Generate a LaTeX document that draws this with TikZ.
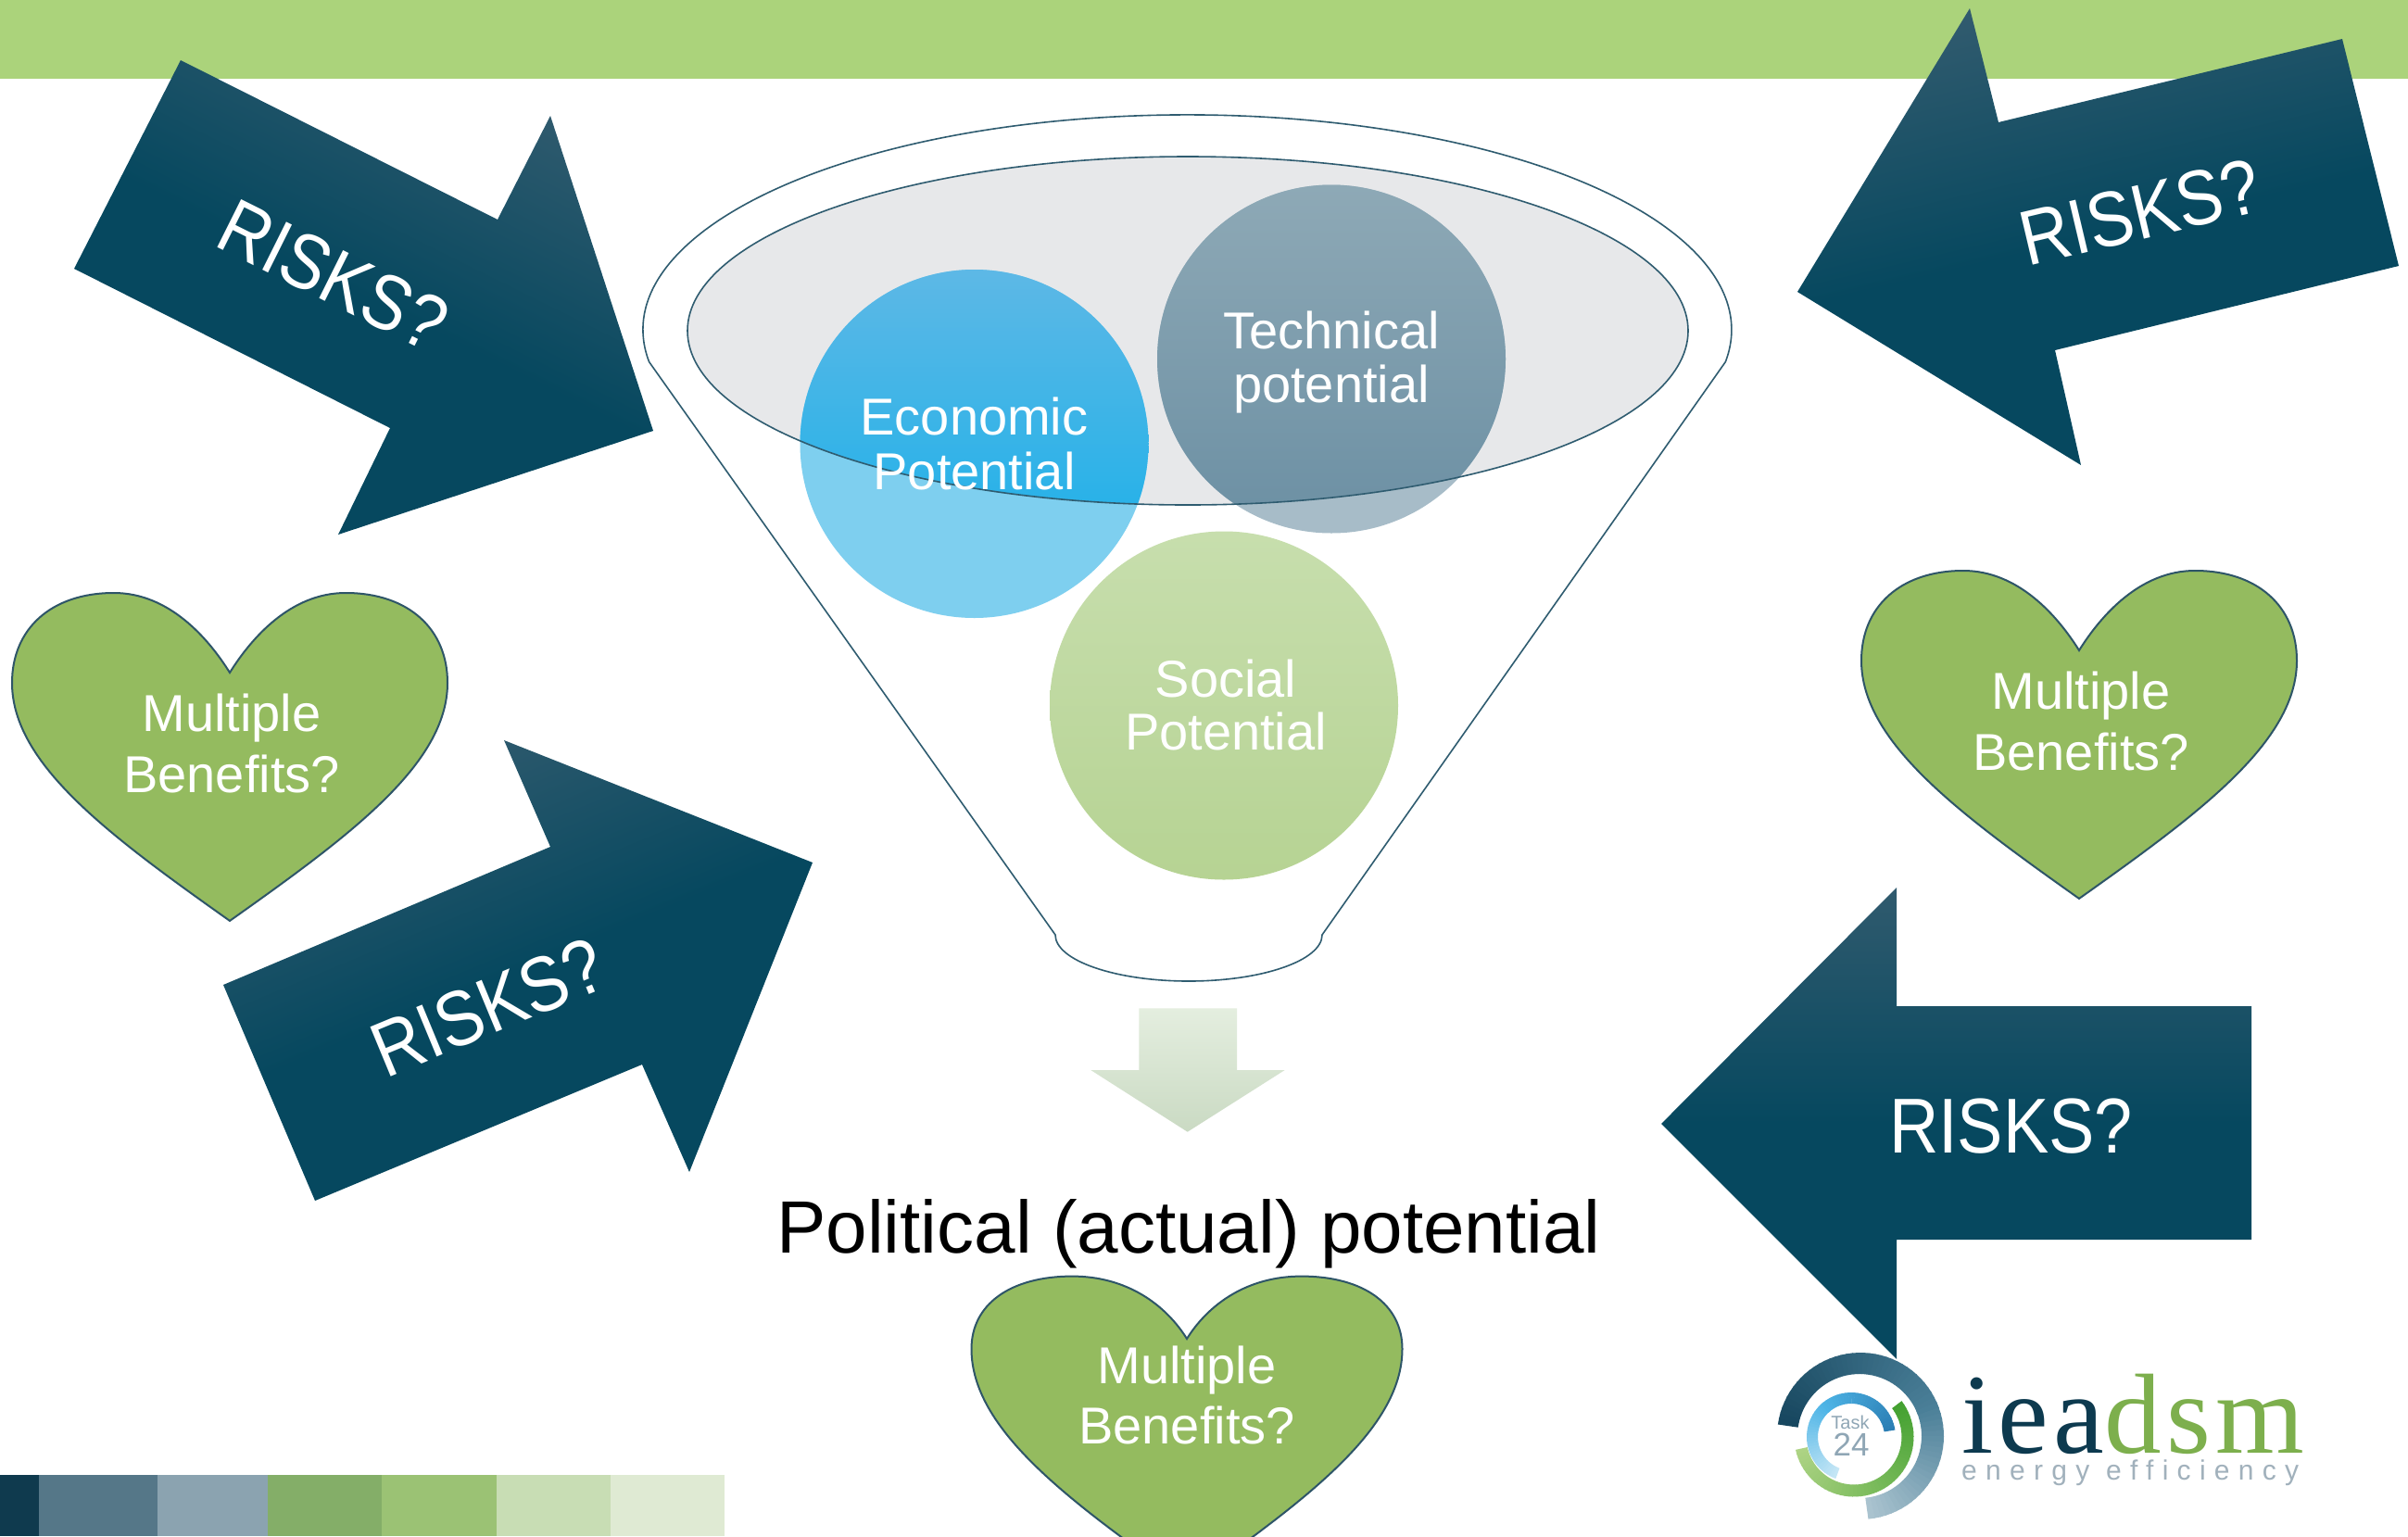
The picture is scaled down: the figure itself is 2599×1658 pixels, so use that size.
\documentclass[tikz,border=0pt]{standalone}
\usepackage{fontspec}
\usepackage{graphicx}
\setmainfont{Liberation Sans}
\newfontfamily\seriflogo{Liberation Serif}

\definecolor{band}{HTML}{ABD37B}
\definecolor{adark}{HTML}{06485F}
\definecolor{alight}{HTML}{5A6D7D}
\definecolor{funline}{HTML}{2F5C70}
\definecolor{ellfill}{HTML}{E7E8EA}
\definecolor{ecotop}{HTML}{5DB8E6}
\definecolor{ecobot}{HTML}{10AFE9}
\definecolor{ecoout}{HTML}{7ECFEF}
\definecolor{tectop}{HTML}{8EA9B6}
\definecolor{tecbot}{HTML}{6B8FA3}
\definecolor{tecout}{HTML}{A7BCC8}
\definecolor{soctop}{HTML}{C7DEAD}
\definecolor{socbot}{HTML}{B6D393}
\definecolor{heartfill}{HTML}{94BB5F}
\definecolor{heartline}{HTML}{2E5568}
\definecolor{dnarrtop}{HTML}{E4EEDF}
\definecolor{dnarrbot}{HTML}{CADAC3}
\definecolor{sA}{HTML}{0F3A4E}
\definecolor{sB}{HTML}{557788}
\definecolor{sC}{HTML}{8BA3B0}
\definecolor{sD}{HTML}{84AE68}
\definecolor{sE}{HTML}{9BC274}
\definecolor{sF}{HTML}{C8DDB4}
\definecolor{sG}{HTML}{DFEAD3}
\definecolor{logodark}{HTML}{17475F}
\definecolor{logomid}{HTML}{4A7F98}
\definecolor{logolight}{HTML}{AAC3CF}
\definecolor{greenA}{HTML}{44A131}
\definecolor{greenB}{HTML}{ADD384}
\definecolor{blueA}{HTML}{2B7EB4}
\definecolor{blueB}{HTML}{4DB4E6}
\definecolor{blueC}{HTML}{C4E6F5}
\definecolor{logogray}{HTML}{8FA6B5}
\definecolor{logogray2}{HTML}{A1B1BC}
\definecolor{logonavy}{HTML}{0D3A4F}
\definecolor{logogreen}{HTML}{7DAF4D}

\pgfdeclareverticalshading{riskshade}{100bp}{color(0bp)=(adark); color(50bp)=(adark); color(100bp)=(alight)}

\newcommand\drawheart[5]{%
  \begin{scope}[shift={(#1,#2)}, x=#3pt, y=#3pt]
    \path[heartstyle] (0,0) .. controls (-0.1,0.16) and (-0.28,#4) .. (-0.532,#4)
      .. controls (-0.82,#4) and (-1,{0.55*#4}) .. (-1,-0.047)
      .. controls (-1,-0.42) and (-0.55,-0.75) .. (0,-1.14)
      .. controls (0.55,-0.75) and (1,-0.42) .. (1,-0.047)
      .. controls (1,{0.55*#4}) and (0.82,#4) .. (0.532,#4)
      .. controls (0.28,#4) and (0.1,0.16) .. (0,0) -- cycle;
    \coordinate (#5) at (0,0);
  \end{scope}}

\begin{document}
\begin{tikzpicture}[x=1pt,y=-1pt,
  riskarrow/.style={shading=riskshade},
  risktext/.style={text=white, inner sep=0pt, font=\fontsize{84}{100}\selectfont},
  circtext/.style={text=white, inner sep=0pt, anchor=base, font=\fontsize{56}{60}\selectfont},
  hearttext/.style={text=white, inner sep=0pt, anchor=base, font=\fontsize{56}{60}\selectfont},
  heartstyle/.style={fill=heartfill, draw=heartline, line width=2pt},
  funnel/.style={draw=funline, line width=1.6pt}]
\useasboundingbox (0,0) rectangle (2599,1658);
\clip (0,0) rectangle (2599,1658);
\fill[white] (0,0) rectangle (2599,1658);
\fill[band] (0,0) rectangle (2599,85);

% ---- risk arrows
\shade[riskarrow, shading angle=-26.5] (195,65) -- (537,237) -- (594,125) -- (705,465) -- (365,577) -- (421,462) -- (80,290) -- cycle;
\node[risktext, rotate=-26.5] (r1) at (360,297) {\scalebox{0.88}[1]{RISKS?}};

\shade[riskarrow, shading angle=22.5] (241,1063) -- (594,914) -- (544,799) -- (877,931) -- (744,1265) -- (693,1149) -- (340,1296) -- cycle;
\node[risktext, rotate=22.5] (r2) at (527,1087) {\scalebox{0.88}[1]{RISKS?}};

\shade[riskarrow, shading angle=13.3] (1940,315) -- (2126,9) -- (2157,132) -- (2528,42) -- (2589,287) -- (2218,378) -- (2246,502) -- cycle;
\node[risktext, rotate=13.3] (r3) at (2310,229) {\scalebox{0.88}[1]{RISKS?}};

\shade[riskarrow] (1793,1213) -- (2047,958) -- (2047,1086) -- (2430,1086) -- (2430,1338) -- (2047,1338) -- (2047,1467) -- cycle;
\node[risktext] (r4) at (2170.5,1216) {\scalebox{0.88}[1]{RISKS?}};

% ---- funnel
\draw[funnel] (1139,1009) -- (700.6,390.6)
  arc[start angle=171.4, end angle=368.6, x radius=587.5, y radius=232]
  -- (1427,1009) arc[start angle=0, end angle=180, x radius=144, y radius=50] -- cycle;
\fill[ellfill] (1282,357) ellipse (540 and 188);

\fill[ecoout] (1051.5,479) circle (188);
\fill[tecout] (1437,387.5) circle (188);
\begin{scope}
  \clip (1282,357) ellipse (540 and 188);
  \shade[top color=ecotop, bottom color=ecobot] (1051.5,479) circle (188);
  \shade[top color=tectop, bottom color=tecbot] (1437,387.5) circle (188);
\end{scope}
\draw[funnel] (1282,357) ellipse (540 and 188);
\shade[top color=soctop, bottom color=socbot] (1321,761.5) circle (188);

\node[circtext] (eco1) at (1051.5,469) {Economic};
\node[circtext] (eco2) at (1051.5,528) {Potential};
\node[circtext] (tec1) at (1437,376) {Technical};
\node[circtext] (tec2) at (1437,434) {potential};
\node[circtext] (soc1) at (1323,752) {Social};
\node[circtext] (soc2) at (1323,809) {Potential};

% ---- down arrow
\shade[top color=dnarrtop, bottom color=dnarrbot] (1229.3,1088.3) -- (1335,1088.3) -- (1335,1155) -- (1386.7,1155) -- (1281.7,1221.7) -- (1177.3,1155) -- (1229.3,1155) -- cycle;

\node[anchor=base, inner sep=0pt, font=\fontsize{80}{96}\selectfont] (pol) at (1283,1352) {Political (actual) potential};

% ---- hearts
\drawheart{248}{726}{235}{0.366}{hL}
\node[hearttext] (hL1) at (250,789) {Multiple};
\node[hearttext] (hL2) at (250,855) {Benefits?};
\drawheart{2244}{702}{235}{0.366}{hR}
\node[hearttext] (hR1) at (2246,765) {Multiple};
\node[hearttext] (hR2) at (2246,831) {Benefits?};
\drawheart{1281}{1445}{232.5}{0.29}{hB}
\node[hearttext] (hB1) at (1281,1493) {Multiple};
\node[hearttext] (hB2) at (1281,1558) {Benefits?};

% ---- colour strip
\fill[sA] (0,1592) rectangle (42,1658);
\fill[sB] (42,1592) rectangle (170,1658);
\fill[sC] (170,1592) rectangle (289,1658);
\fill[sD] (289,1592) rectangle (412,1658);
\fill[sE] (412,1592) rectangle (536,1658);
\fill[sF] (536,1592) rectangle (659,1658);
\fill[sG] (659,1592) rectangle (782,1658);

% ---- logo
\begin{scope}[shift={(2008,1550)}, x=1pt, y=1pt]
  \foreach \i in {0,...,37} {
    \pgfmathsetmacro\aa{172-4*\i}
    \pgfmathsetmacro\ab{\aa-4.6}
    \pgfmathsetmacro\pp{100*\i/37}
    \fill[logomid!\pp!logodark] (\aa:90) -- (\ab:90) -- ([shift={(-1,0)}]\ab:67) -- ([shift={(-1,0)}]\aa:67) -- cycle;
  }
  \foreach \i in {0,...,26} {
    \pgfmathsetmacro\aa{24-4*\i}
    \pgfmathsetmacro\ab{\aa-4.6}
    \pgfmathsetmacro\pp{100*\i/26}
    \fill[logolight!\pp!logomid] (\aa:90) -- (\ab:90) -- ([shift={(-1,0)}]\ab:67) -- ([shift={(-1,0)}]\aa:67) -- cycle;
  }
  \foreach \i in {0,...,50} {
    \pgfmathsetmacro\aa{37-4*\i}
    \pgfmathsetmacro\ab{\aa-4.6}
    \pgfmathsetmacro\pp{100*\i/50}
    \fill[greenB!\pp!greenA] ([shift={(-7,-1)}]\aa:64.5) -- ([shift={(-7,-1)}]\ab:64.5) -- ([shift={(-7,-1)}]\ab:51.5) -- ([shift={(-7,-1)}]\aa:51.5) -- cycle;
  }
  \foreach \i in {0,...,30} {
    \pgfmathsetmacro\aa{9+4*\i}
    \pgfmathsetmacro\ab{\aa+4.6}
    \pgfmathsetmacro\pp{100*\i/30}
    \fill[blueB!\pp!blueA] ([shift={(-10,-1)}]\aa:48) -- ([shift={(-10,-1)}]\ab:48) -- ([shift={(-10,-1)}]\ab:36) -- ([shift={(-10,-1)}]\aa:36) -- cycle;
  }
  \foreach \i in {0,...,29} {
    \pgfmathsetmacro\aa{129+4*\i}
    \pgfmathsetmacro\ab{\aa+4.6}
    \pgfmathsetmacro\pp{100*\i/29}
    \fill[blueC!\pp!blueB] ([shift={(-10,-1)}]\aa:48) -- ([shift={(-10,-1)}]\ab:48) -- ([shift={(-10,-1)}]\ab:36) -- ([shift={(-10,-1)}]\aa:36) -- cycle;
  }
  \node[anchor=base, inner sep=0pt, text=logogray, font=\fontsize{20}{24}\selectfont] (task) at (-11,8) {Task};
  \node[anchor=base, inner sep=0pt, text=logogray, font=\fontsize{35}{40}\selectfont] (tasknum) at (-10,-21) {24};
\end{scope}
\node[anchor=base west, inner sep=0pt, font=\seriflogo\fontsize{123}{130}\selectfont\addfontfeature{LetterSpace=4.4}] (iea) at (2117,1568) {\textcolor{logonavy}{iea}\textcolor{logogreen}{dsm}};
\node[anchor=base west, inner sep=0pt, text=logogray2, font=\fontsize{30}{34}\selectfont\addfontfeature{LetterSpace=31}] (ee) at (2117,1597) {energy efficiency};
\end{tikzpicture}
\end{document}
